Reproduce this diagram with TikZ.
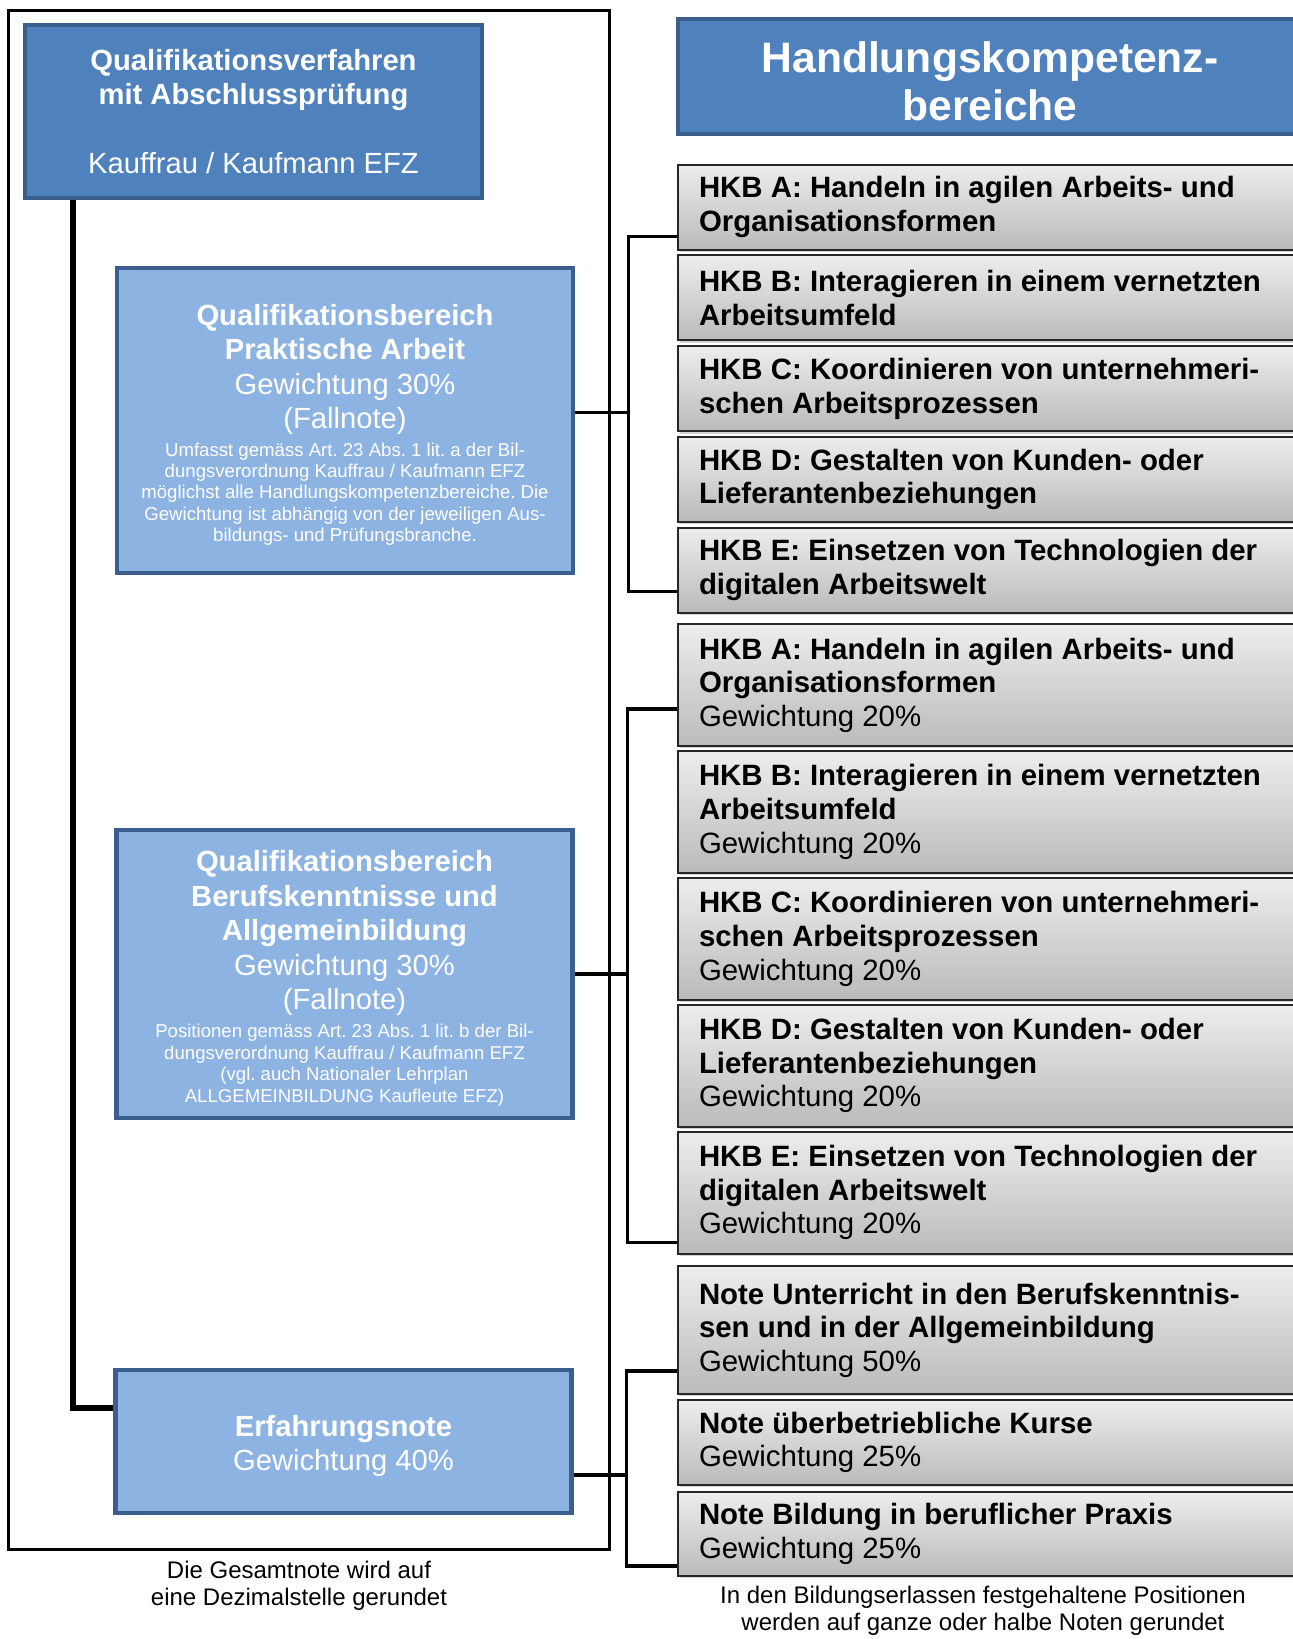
\documentclass[tikz,border=0pt]{standalone}
\usepackage{fontspec}
\setmainfont{Liberation Sans}
\usepackage{tikz}
\usetikzlibrary{positioning,shadows}

\definecolor{qvblue}{HTML}{4F81BD}
\definecolor{qvlight}{HTML}{8DB3E2}
\definecolor{qvedge}{HTML}{3A5F8E}

\newcommand{\bigtext}{\fontsize{14.6}{17.2}\selectfont}
\newcommand{\smalltext}{\fontsize{9.3}{10.7}\selectfont}
\frenchspacing

\begin{document}
\begin{tikzpicture}[x=0.5pt, y=-0.5pt,
    darkbox/.style={draw=qvedge, fill=qvblue, line width=2pt, text=white, align=center, font=\bigtext},
    areabox/.style={draw=qvedge, fill=qvlight, line width=2.2pt, text=white, align=flush center, font=\bigtext,
        text width=222pt, inner xsep=3pt},
    hkbbox/.style={draw=black!85, line width=1pt, top color=black!7, bottom color=black!27,
        drop shadow={shadow xshift=0.8pt, shadow yshift=-1.2pt, opacity=0.35},
        text width=291pt, inner xsep=10.5pt, align=flush left, font=\fontsize{14.7}{16.8}\selectfont},
    link/.style={line width=1.6pt},
    trunk/.style={line width=3.2pt},
    notetext/.style={align=center, font=\fontsize{12}{13.5}\selectfont}]

    \useasboundingbox (0,0) rectangle (1293,1639);

    % frame round the procedure
    \draw[line width=1.5pt] (8,10) rectangle (609,1549);

    % left side
    \node[darkbox, minimum width=228.5pt, minimum height=86.5pt] (qv) at (253.5,111.5)
        {\textbf{Qualifikationsverfahren}\\\textbf{mit Abschlussprüfung}\\[17pt]Kauffrau / Kaufmann EFZ};

    \node[areabox, minimum height=152.5pt] (prak) at (345,420.5)
        {\rule{0pt}{15pt}{\bfseries Qualifikationsbereich\\Praktische Arbeit\\}Gewichtung 30\%\\(Fallnote)\par\vspace{3pt}
         {\smalltext Umfasst gemäss Art. 23 Abs. 1 lit. a der Bil-\\dungsverordnung Kauffrau / Kaufmann EFZ\\möglichst alle Handlungskompetenzbereiche. Die\\Gewichtung ist abhängig von der jeweiligen Aus-\\bildungs- und Prüfungsbranche.\par}};

    \node[areabox, minimum height=144pt] (beruf) at (344.5,974)
        {\rule{0pt}{15pt}{\bfseries Qualifikationsbereich\\Berufskenntnisse und\\Allgemeinbildung\\}Gewichtung 30\%\\(Fallnote)\par\vspace{3.5pt}
         {\smalltext Positionen gemäss Art. 23 Abs. 1 lit. b der Bil-\\dungsverordnung Kauffrau / Kaufmann EFZ\\(vgl. auch Nationaler Lehrplan\\ALLGEMEINBILDUNG Kaufleute EFZ)\par}};

    \node[areabox, minimum height=71.5pt] (erf) at (343.5,1441.5)
        {\rule{0pt}{15pt}{\bfseries Erfahrungsnote\\}Gewichtung 40\%};

    \draw[trunk] ([xshift=25pt]qv.south west) |- ([yshift=-20pt]erf.north west);

    % right side
    \node[darkbox, minimum width=312pt, minimum height=57.5pt, font=\fontsize{21.3}{24}\bfseries] (hkb) at (990,76.5)
        {\rule{0pt}{20.4pt}Handlungskompetenz-\\bereiche};

    \foreach \k/\txt [count=\i from 0] in {
        A/{Handeln in agilen Arbeits- und\\Organisationsformen},
        B/{Interagieren in einem vernetzten\\Arbeitsumfeld},
        C/{Koordinieren von unternehmeri-\\schen Arbeitsprozessen},
        D/{Gestalten von Kunden- oder\\Lieferantenbeziehungen},
        E/{Einsetzen von Technologien der\\digitalen Arbeitswelt}} {
        \node[hkbbox, minimum height=42.5pt] (pa\k) at (990,207+90.8*\i) {\textbf{HKB \k: \txt}};
        \node[hkbbox, minimum height=61pt] (bk\k) at (990,685+126.9*\i) {\textbf{HKB \k: \txt}\\Gewichtung 20\%};
    }

    \node[hkbbox, minimum height=64pt] (nu) at (990,1330)
        {\textbf{Note Unterricht in den Berufskenntnis-\\sen und in der Allgemeinbildung}\\Gewichtung 50\%};
    \node[hkbbox, minimum height=42.5pt] (nk) at (990,1442.5)
        {\textbf{Note überbetriebliche Kurse}\\Gewichtung 25\%};
    \node[hkbbox, minimum height=42pt] (np) at (990,1534)
        {\textbf{Note Bildung in beruflicher Praxis}\\Gewichtung 25\%};

    % brackets
    \draw[link] ([yshift=4pt]prak.east) -- ++(53,0) coordinate (j1);
    \draw[link] ([yshift=7pt]paA.south west) -| (j1) |- ([yshift=11pt]paE.south west);

    \draw[link] (beruf.east) -- ++(53,0) coordinate (j2);
    \draw[link] ([yshift=19pt]bkA.south west) -| (j2) |- ([yshift=6pt]bkE.south west);

    \draw[link] ([yshift=-16.75pt]erf.east) -- ++(53,0) coordinate (j3);
    \draw[link] ([yshift=12pt]nu.south west) -| (j3) |- ([yshift=5.5pt]np.south west);

    % notes
    \node[notetext] (gesamt) at (299,1586) {Die Gesamtnote wird auf\\eine Dezimalstelle gerundet};
    \node[notetext] (runden) at (983,1611) {In den Bildungserlassen festgehaltene Positionen\\werden auf ganze oder halbe Noten gerundet};
\end{tikzpicture}
\end{document}
